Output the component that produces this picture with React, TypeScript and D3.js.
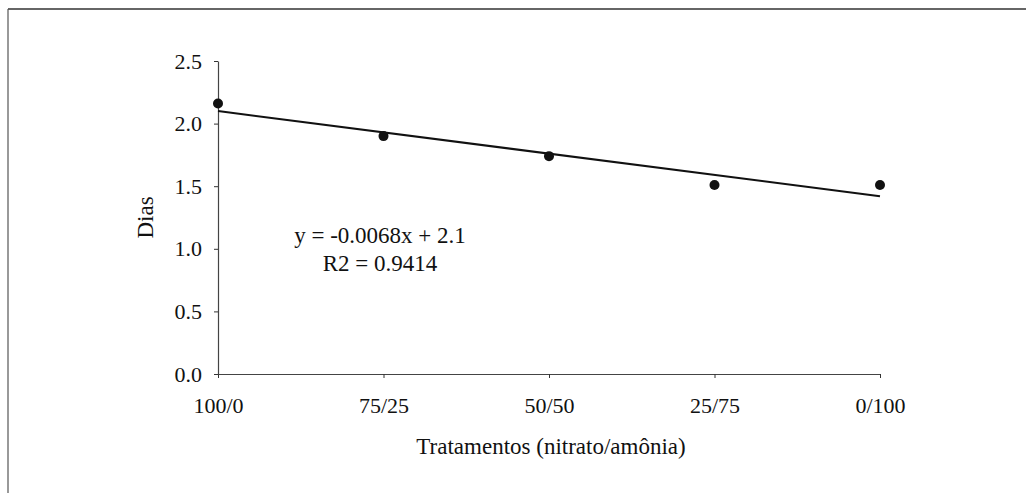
import React, { useRef, useEffect } from 'react';
import * as d3 from 'd3';

const treatments = ['100/0', '75/25', '50/50', '25/75', '0/100'];
const ammoniumPct = [0, 25, 50, 75, 100];
const days = [2.16, 1.9, 1.74, 1.51, 1.51];
const yTicks = [0, 0.5, 1.0, 1.5, 2.0, 2.5];
const slope = -0.0068;
const intercept = 2.1;
const equationLines = ['y = -0.0068x + 2.1', 'R2 = 0.9414'];

const W = 1026;
const H = 493;

const App = () => {
  const ref = useRef<SVGSVGElement>(null);

  useEffect(() => {
    const svg = d3.select(ref.current);
    svg.selectAll('*').remove();

    const font = '"Liberation Serif", "Times New Roman", serif';
    const x = d3.scaleLinear().domain([0, 100]).range([218, 880]);
    const y = d3.scaleLinear().domain([0, 2.5]).range([374, 61]);

    // frame (only top and left edges show)
    svg.append('line').attr('x1', 8).attr('x2', W).attr('y1', 9).attr('y2', 9)
      .attr('stroke', '#333').attr('stroke-width', 1.5);
    svg.append('line').attr('x1', 8).attr('x2', 8).attr('y1', 9).attr('y2', H)
      .attr('stroke', '#555').attr('stroke-width', 1.2);

    const xAxis = svg.append('g')
      .attr('transform', `translate(0,${y(0)})`)
      .call(d3.axisBottom(x).tickValues(ammoniumPct)
        .tickFormat((d, i) => treatments[i]).tickSize(4).tickSizeOuter(0).tickPadding(19));
    const yAxis = svg.append('g')
      .attr('transform', `translate(${x(0)},0)`)
      .call(d3.axisLeft(y).tickValues(yTicks)
        .tickFormat(d3.format('.1f')).tickSize(4).tickSizeOuter(0).tickPadding(12));

    [xAxis, yAxis].forEach(g => {
      g.select('.domain').attr('stroke', '#444').attr('stroke-width', 1.2);
      g.selectAll('.tick line').attr('stroke', '#333');
      g.selectAll('text').attr('font-family', font).attr('font-size', 22).attr('fill', '#111');
    });

    // regression line
    svg.append('line')
      .attr('x1', x(0)).attr('y1', y(intercept))
      .attr('x2', x(100)).attr('y2', y(intercept + slope * 100))
      .attr('stroke', '#111').attr('stroke-width', 2);

    svg.selectAll('circle.pt')
      .data(days)
      .enter()
      .append('circle')
      .attr('class', 'pt')
      .attr('cx', (d, i) => x(ammoniumPct[i]))
      .attr('cy', d => y(d))
      .attr('r', 5)
      .attr('fill', '#111');

    svg.append('g').selectAll('text')
      .data(equationLines)
      .enter()
      .append('text')
      .attr('x', 380)
      .attr('y', (d, i) => 243 + i * 28)
      .attr('text-anchor', 'middle')
      .attr('font-family', font)
      .attr('font-size', 23)
      .attr('fill', '#111')
      .text(d => d);

    svg.append('text')
      .attr('transform', `translate(153,${y(1.25)}) rotate(-90)`)
      .attr('text-anchor', 'middle')
      .attr('font-family', font)
      .attr('font-size', 23)
      .attr('fill', '#111')
      .text('Dias');

    svg.append('text')
      .attr('x', 551)
      .attr('y', 454)
      .attr('text-anchor', 'middle')
      .attr('font-family', font)
      .attr('font-size', 23)
      .attr('fill', '#111')
      .text('Tratamentos (nitrato/amônia)');
  }, []);

  return (
    <svg ref={ref} width={W} height={H}
      style={{ position: 'absolute', left: 0, top: 0, background: '#fff' }} />
  );
};

export default App;
